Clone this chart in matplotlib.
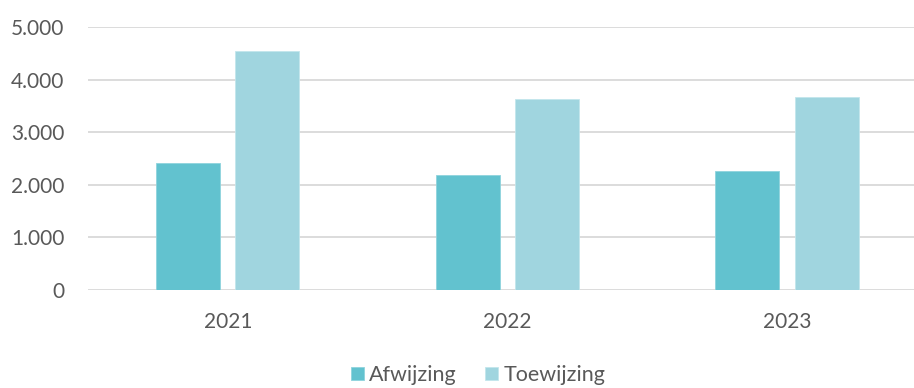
import matplotlib
matplotlib.use('Agg')
import matplotlib.pyplot as plt
from matplotlib.ticker import FuncFormatter
import numpy as np

years = ['2021', '2022', '2023']
afwijzing = [2410, 2190, 2260]
toewijzing = [4550, 3630, 3670]

plt.rcParams['font.family'] = ['Lato', 'DejaVu Sans']

fig = plt.figure(figsize=(9.14, 3.88), dpi=100)
ax = fig.add_axes([0.0963, 0.2526, 0.9037, 0.6778])

x = np.arange(len(years))
w = 0.229
ax.bar(x - 0.142, afwijzing, w, color='#62C2CF', edgecolor='#8fd3dd', linewidth=0.6, label='Afwijzing', zorder=3)
ax.bar(x + 0.142, toewijzing, w, color='#A0D5DF', edgecolor='#c2e6ec', linewidth=0.6, label='Toewijzing', zorder=3)

ax.set_ylim(0, 5000)
ax.set_xlim(-0.5, 2.455)
ax.set_yticks(range(0, 5001, 1000))
ax.yaxis.set_major_formatter(FuncFormatter(lambda v, p: f'{int(v):,}'.replace(',', '.')))
ax.set_xticks(x)
ax.set_xticklabels(years)
ax.grid(axis='y', color='#d9d9d9', linewidth=1.3, zorder=0)
for s in ax.spines.values():
    s.set_visible(False)
ax.tick_params(length=0, labelsize=15, colors='#595959')
ax.tick_params(axis='y', pad=17)
ax.tick_params(axis='x', pad=16)

leg = fig.legend(loc='center', bbox_to_anchor=(0.523, 0.033), ncol=2, frameon=False,
                 fontsize=15.5, handlelength=0.6, handleheight=0.6, handletextpad=0.25,
                 columnspacing=1.3, labelcolor='#595959')

fig.savefig('out.png', dpi=100)
